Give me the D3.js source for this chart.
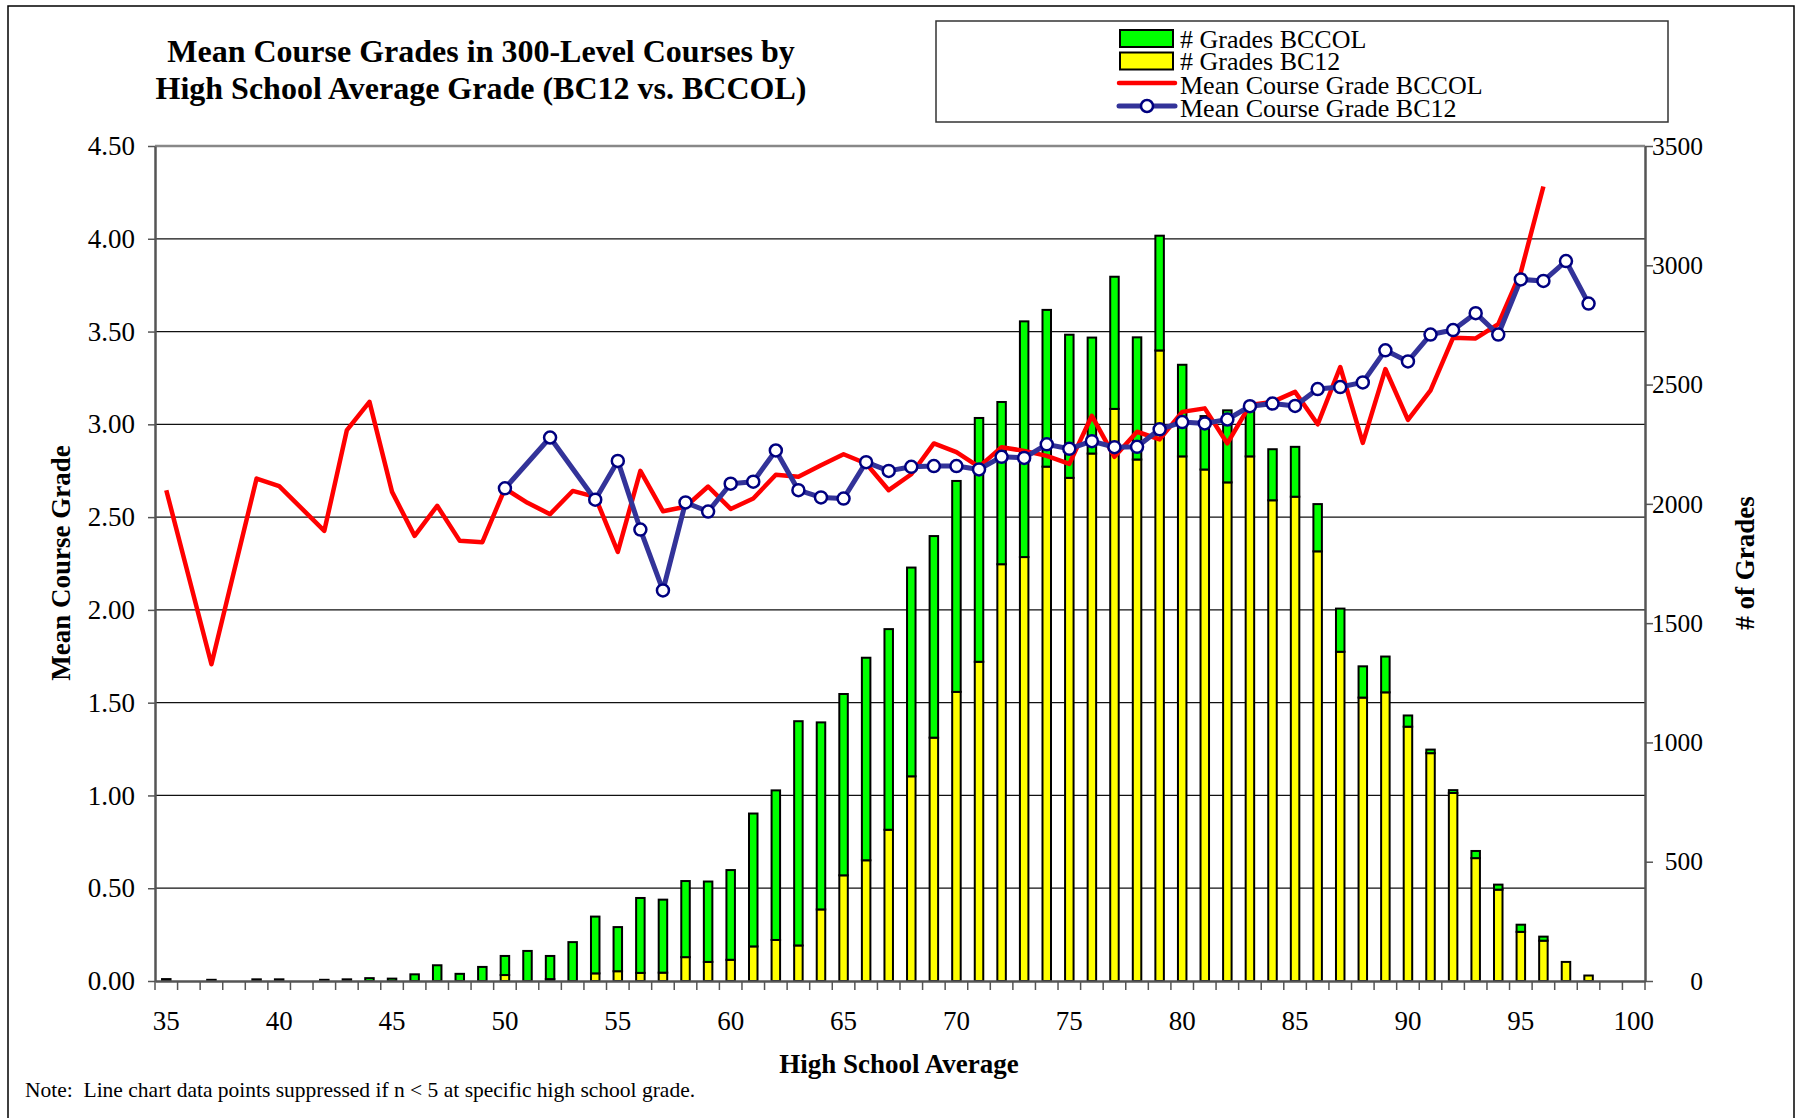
<!DOCTYPE html>
<html>
<head>
<meta charset="utf-8">
<script src="https://cdnjs.cloudflare.com/ajax/libs/d3/7.8.5/d3.min.js"></script>
<style>
  body { margin: 0; background: #fff; }
  svg text { font-family: "Liberation Serif", "Times New Roman", serif; fill: #000; }
</style>
</head>
<body>
<svg id="chart" width="1801" height="1118"></svg>
<script>
    // high school average categories (x axis)
    var grades = [35, 36, 37, 38, 39, 40, 41, 42, 43, 44, 45, 46, 47, 48, 49, 50,
      51, 52, 53, 54, 55, 56, 57, 58, 59, 60, 61, 62, 63, 64, 65, 66, 67, 68, 69, 70,
      71, 72, 73, 74, 75, 76, 77, 78, 79, 80, 81, 82, 83, 84, 85, 86, 87, 88, 89, 90,
      91, 92, 93, 94, 95, 96, 97, 98, 99, 100];

    // # of grades, BC12 (yellow, bottom of stack)
    var bc12Count = [0, 0, 0, 0, 0, 0, 0, 0, 0, 0, 0, 0, 0, 0, 0, 25,
      0, 8, 0, 32, 41, 34, 35, 100, 80, 89, 145, 172, 149, 300, 443, 506, 634, 858, 1020, 1212,
      1338, 1747, 1777, 2156, 2109, 2211, 2398, 2186, 2643, 2199, 2144, 2090, 2199, 2015, 2030, 1801, 1380, 1188, 1210, 1066,
      955, 788, 515, 383, 206, 169, 80, 23, 0, 0];

    // # of grades, BCCOL (green, top of stack)
    var bccolCount = [8, 0, 5, 0, 7, 7, 0, 5, 7, 12, 10, 28, 66, 30, 59, 80,
      126, 97, 163, 238, 185, 314, 306, 319, 337, 376, 557, 627, 940, 784, 760, 849, 841, 875, 845, 884,
      1022, 680, 988, 657, 600, 486, 554, 512, 481, 384, 224, 302, 194, 214, 209, 198, 181, 131, 150, 47,
      15, 12, 30, 21, 30, 17, 0, 0, 0, 0];

    // mean course grade, BCCOL (null = suppressed, n < 5)
    var bccolMean = [2.645, null, 1.707, null, 2.708, 2.667, null, 2.426, 2.969, 3.121, 2.636, 2.399, 2.561, 2.372, 2.365, 2.654,
      2.577, 2.516, 2.641, 2.609, 2.313, 2.749, 2.532, 2.556, 2.665, 2.544, 2.600, 2.728, 2.717, 2.780, 2.839, 2.789, 2.645, 2.731, 2.897, 2.850,
      2.771, 2.877, 2.857, 2.830, 2.787, 3.046, 2.825, 2.960, 2.919, 3.067, 3.086, 2.897, 3.104, 3.121, 3.175, 3.000, 3.309, 2.900, 3.298, 3.024,
      3.183, 3.467, 3.463, 3.540, 3.820, 4.282, null, null, null, null];

    // mean course grade, BC12
    var bc12Mean = [null, null, null, null, null, null, null, null, null, null, null, null, null, null, null, 2.655,
      null, 2.929, null, 2.594, 2.803, 2.433, 2.105, 2.579, 2.530, 2.680, 2.691, 2.859, 2.645, 2.606, 2.600, 2.796, 2.749, 2.771, 2.775, 2.775,
      2.757, 2.825, 2.819, 2.892, 2.868, 2.909, 2.877, 2.879, 2.973, 3.012, 3.005, 3.026, 3.098, 3.112, 3.099, 3.190, 3.201, 3.226, 3.399, 3.339,
      3.484, 3.508, 3.599, 3.484, 3.781, 3.773, 3.880, 3.651, null, null];

    var gradeTicks = [0, 0.5, 1, 1.5, 2, 2.5, 3, 3.5, 4, 4.5];
    var countTicks = [0, 500, 1000, 1500, 2000, 2500, 3000, 3500];
    var xLabels = [35, 40, 45, 50, 55, 60, 65, 70, 75, 80, 85, 90, 95, 100];

    var svg = d3.select("#chart");
    var plotLeft = 155, plotRight = 1645, plotTop = 146, plotBottom = 981;

    var x = d3.scaleBand().domain(grades).range([plotLeft, plotRight]);
    var yGrade = d3.scaleLinear().domain([0, 4.5]).range([plotBottom, plotTop]);
    var yCount = d3.scaleLinear().domain([0, 3500]).range([plotBottom, plotTop]);
    var bw = x.bandwidth();
    var barW = 8.5;

    // outer chart border
    svg.append("rect")
      .attr("x", 8).attr("y", 6).attr("width", 1786).attr("height", 1120)
      .attr("fill", "none").attr("stroke", "#000").attr("stroke-width", 1.5);

    // title
    var title = svg.append("text")
      .attr("text-anchor", "middle")
      .attr("font-size", 32).attr("font-weight", "bold");
    title.append("tspan").attr("x", 481).attr("y", 62).text("Mean Course Grades in 300-Level Courses by");
    title.append("tspan").attr("x", 481).attr("y", 99).text("High School Average Grade (BC12 vs. BCCOL)");

    // gridlines
    svg.append("g").selectAll("line")
      .data(gradeTicks.filter(function(d) { return d > 0 && d < 4.5; }))
      .enter().append("line")
      .attr("x1", plotLeft).attr("x2", plotRight)
      .attr("y1", function(d) { return yGrade(d); })
      .attr("y2", function(d) { return yGrade(d); })
      .attr("stroke", "#111").attr("stroke-width", 1.2);

    svg.append("line")
      .attr("x1", plotLeft).attr("x2", plotRight).attr("y1", plotTop).attr("y2", plotTop)
      .attr("stroke", "#888").attr("stroke-width", 2.5);

    // stacked bars
    var table = grades.map(function(g, i) {
      return { grade: g, bc12: bc12Count[i], bccol: bccolCount[i] };
    });
    var stack = d3.stack().keys(["bc12", "bccol"])(table);
    var fills = { bc12: "#ffff00", bccol: "#00ff00" };

    svg.append("g").selectAll("g")
      .data(stack)
      .enter().append("g")
      .attr("fill", function(s) { return fills[s.key]; })
      .selectAll("rect")
      .data(function(s) { return s.filter(function(d) { return d[1] > d[0]; }); })
      .enter().append("rect")
      .attr("x", function(d) { return x(d.data.grade) + (bw - barW) / 2; })
      .attr("y", function(d) { return yCount(d[1]); })
      .attr("width", barW)
      .attr("height", function(d) { return yCount(d[0]) - yCount(d[1]); })
      .attr("stroke", "#000").attr("stroke-width", 2);

    // axes
    var axisColor = "#555";

    var leftAxis = svg.append("g")
      .attr("transform", "translate(" + plotLeft + ",0)")
      .call(d3.axisLeft(yGrade).tickValues(gradeTicks).tickFormat(d3.format(".2f"))
        .tickSize(7).tickSizeOuter(0).tickPadding(13));
    leftAxis.attr("font-size", 27);

    var rightAxis = svg.append("g")
      .attr("transform", "translate(" + plotRight + ",0)")
      .call(d3.axisRight(yCount).tickValues(countTicks).tickFormat(d3.format("d"))
        .tickSize(8).tickSizeOuter(0));
    rightAxis.attr("font-size", 25.5);
    rightAxis.selectAll("text").attr("x", 58).attr("text-anchor", "end");

    var bottomAxis = svg.append("g")
      .attr("transform", "translate(0," + plotBottom + ")")
      .call(d3.axisBottom(x).tickValues(xLabels).tickSize(0).tickSizeOuter(0).tickPadding(30));
    bottomAxis.attr("font-size", 27);

    // category boundary ticks
    svg.append("g").selectAll("line")
      .data(grades.map(function(g) { return x(g); }).concat([plotRight]))
      .enter().append("line")
      .attr("x1", function(d) { return d; }).attr("x2", function(d) { return d; })
      .attr("y1", plotBottom).attr("y2", plotBottom + 9)
      .attr("stroke", axisColor).attr("stroke-width", 1.5);

    [leftAxis, rightAxis, bottomAxis].forEach(function(a) {
      a.select(".domain").attr("stroke", axisColor).attr("stroke-width", 2.5);
      a.selectAll(".tick line").attr("stroke", axisColor).attr("stroke-width", 1.5);
    });

    // mean lines
    function points(values) {
      return grades.map(function(g, i) { return { grade: g, v: values[i] }; })
        .filter(function(d) { return d.v !== null; });
    }
    var line = d3.line()
      .x(function(d) { return x(d.grade) + bw / 2; })
      .y(function(d) { return yGrade(d.v); });

    svg.append("path")
      .datum(points(bccolMean))
      .attr("d", line)
      .attr("fill", "none").attr("stroke", "#ff0000").attr("stroke-width", 4.5)
      .attr("stroke-linejoin", "round");

    var bluePts = points(bc12Mean);
    svg.append("path")
      .datum(bluePts)
      .attr("d", line)
      .attr("fill", "none").attr("stroke", "#333399").attr("stroke-width", 5)
      .attr("stroke-linejoin", "round");

    svg.append("g").selectAll("circle")
      .data(bluePts)
      .enter().append("circle")
      .attr("cx", function(d) { return x(d.grade) + bw / 2; })
      .attr("cy", function(d) { return yGrade(d.v); })
      .attr("r", 6)
      .attr("fill", "#fff").attr("stroke", "#000080").attr("stroke-width", 2.5);

    // axis titles
    svg.append("text")
      .attr("transform", "translate(70,563) rotate(-90)")
      .attr("text-anchor", "middle").attr("font-size", 27).attr("font-weight", "bold")
      .text("Mean Course Grade");

    svg.append("text")
      .attr("transform", "translate(1754,563) rotate(-90)")
      .attr("text-anchor", "middle").attr("font-size", 27).attr("font-weight", "bold")
      .text("# of Grades");

    svg.append("text")
      .attr("x", 899).attr("y", 1073)
      .attr("text-anchor", "middle").attr("font-size", 27).attr("font-weight", "bold")
      .text("High School Average");

    svg.append("text")
      .attr("x", 25).attr("y", 1097)
      .attr("font-size", 21.5)
      .style("white-space", "pre")
      .text("Note:  Line chart data points suppressed if n < 5 at specific high school grade.");

    // legend
    var legend = svg.append("g");
    legend.append("rect")
      .attr("x", 936).attr("y", 21).attr("width", 732).attr("height", 101)
      .attr("fill", "#fff").attr("stroke", "#333").attr("stroke-width", 1.5);

    legend.append("rect").attr("x", 1120).attr("y", 30).attr("width", 53).attr("height", 17)
      .attr("fill", "#00ff00").attr("stroke", "#000").attr("stroke-width", 2);
    legend.append("rect").attr("x", 1120).attr("y", 52.5).attr("width", 53).attr("height", 17)
      .attr("fill", "#ffff00").attr("stroke", "#000").attr("stroke-width", 2);
    legend.append("line").attr("x1", 1119).attr("x2", 1175).attr("y1", 83).attr("y2", 83)
      .attr("stroke", "#ff0000").attr("stroke-width", 4.5).attr("stroke-linecap", "round");
    legend.append("line").attr("x1", 1119).attr("x2", 1175).attr("y1", 106).attr("y2", 106)
      .attr("stroke", "#333399").attr("stroke-width", 5).attr("stroke-linecap", "round");
    legend.append("circle").attr("cx", 1147).attr("cy", 106).attr("r", 6)
      .attr("fill", "#fff").attr("stroke", "#000080").attr("stroke-width", 2.5);

    var labels = ["# Grades BCCOL", "# Grades BC12", "Mean Course Grade BCCOL", "Mean Course Grade BC12"];
    var baselines = [47.5, 70, 93.5, 116.5];
    legend.selectAll("text.item")
      .data(labels)
      .enter().append("text")
      .attr("class", "item")
      .attr("x", 1180)
      .attr("y", function(d, i) { return baselines[i]; })
      .attr("font-size", 26)
      .text(function(d) { return d; });
</script>
</body>
</html>
